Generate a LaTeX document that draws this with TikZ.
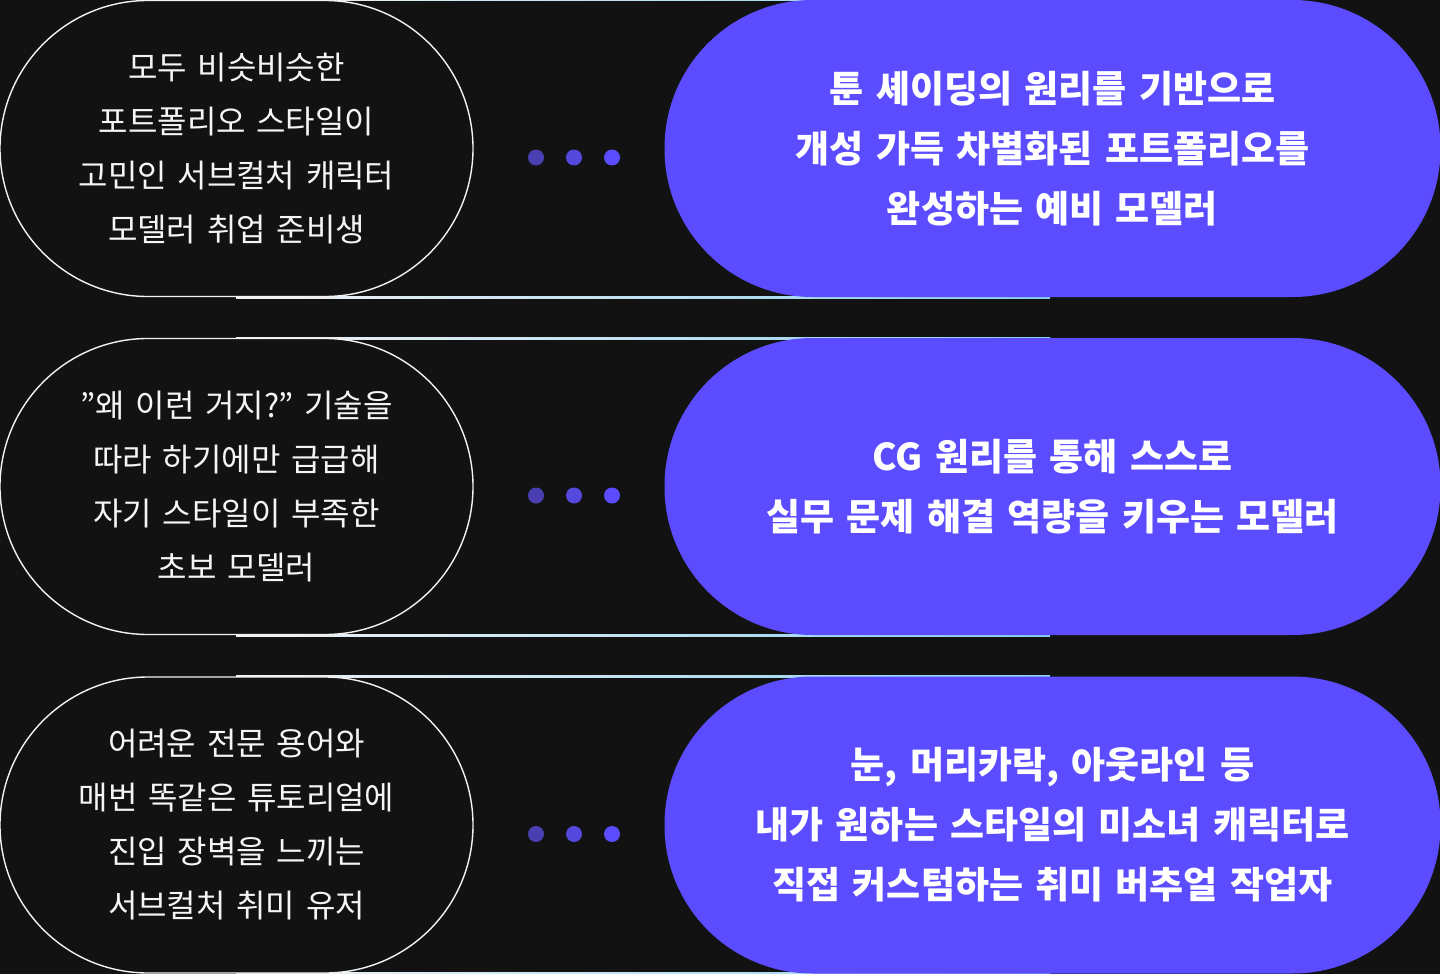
\documentclass[tikz,border=0pt]{standalone}
\usepackage{fontspec}
\setmainfont{Noto Sans CJK KR}
\usetikzlibrary{positioning}
\definecolor{bg}{HTML}{121212}
\definecolor{violet}{HTML}{5B4DFF}
\definecolor{dotA}{HTML}{4A3FB0}
\definecolor{dotB}{HTML}{5548DC}
\definecolor{edge}{HTML}{8AD0F0}
\tikzset{
  before/.style={draw=white!90!gray,line width=0.7pt,fill=bg,rounded corners=74pt,
    minimum width=236.5pt,minimum height=148pt,text width=220pt,align=center,
    text=white!92!gray,font=\fontsize{16}{27}\selectfont},
  after/.style={fill=violet,rounded corners=74pt,minimum width=388pt,
    minimum height=148.5pt,text width=360pt,align=center,text=white,
    font=\fontsize{18.5}{30}\selectfont\bfseries},
  dot/.style={circle,inner sep=0pt,minimum size=8pt}
}
\begin{document}
\begin{tikzpicture}[x=0.5pt,y=-0.5pt]
  \useasboundingbox[fill=bg] (0,0) rectangle (1440,974);
  % rows
  \foreach \r/\y in {1/148.5,2/486.5,3/825} {
    \shade[left color=white!90!gray,right color=edge] (236,\y-149.5) rectangle (1050,\y-147.5);
    \shade[left color=white!90!gray,right color=edge] (236,\y+147.5) rectangle (1050,\y+149.5);
    \node[dot,fill=dotA] (d\r a) at (536,\y+9) {};
    \node[dot,fill=dotB] (d\r b) at (574,\y+9) {};
    \node[dot,fill=violet] (d\r c) at (612,\y+9) {};
  }
  \node[before] (p1) at (236.5,148.5) {모두 비슷비슷한\\포트폴리오 스타일이\\고민인 서브컬처 캐릭터\\모델러 취업 준비생};
  \node[after] (q1) at (1052.5,148.5) {툰 셰이딩의 원리를 기반으로\\개성 가득 차별화된 포트폴리오를\\완성하는 예비 모델러};
  \node[before] (p2) at (236.5,486.5) {"왜 이런 거지?" 기술을\\따라 하기에만 급급해\\자기 스타일이 부족한\\초보 모델러};
  \node[after] (q2) at (1052.5,486.5) {CG 원리를 통해 스스로\\실무 문제 해결 역량을 키우는 모델러};
  \node[before] (p3) at (236.5,825) {어려운 전문 용어와\\매번 똑같은 튜토리얼에\\진입 장벽을 느끼는\\서브컬처 취미 유저};
  \node[after] (q3) at (1052.5,825) {눈, 머리카락, 아웃라인 등\\내가 원하는 스타일의 미소녀 캐릭터로\\직접 커스텀하는 취미 버추얼 작업자};
\end{tikzpicture}
\end{document}
